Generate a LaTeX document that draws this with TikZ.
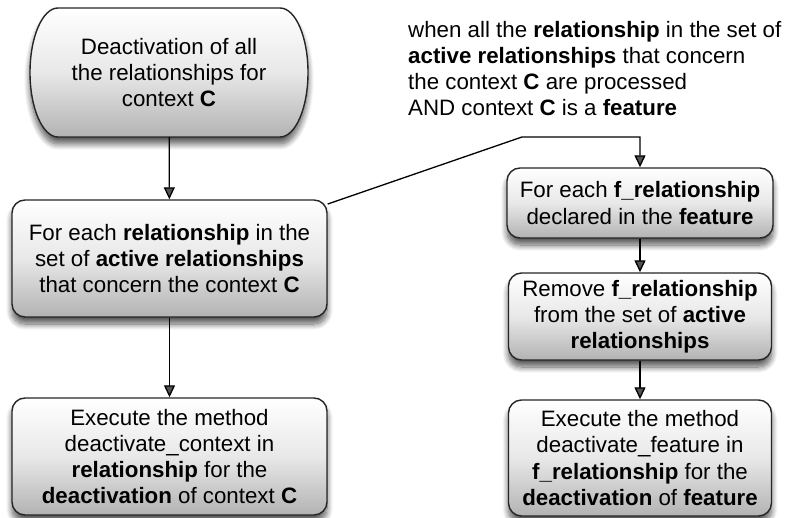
\documentclass[tikz,border=0pt]{standalone}
\usepackage{fontspec}
\setmainfont{Liberation Sans}
\usetikzlibrary{arrows.meta,shadows.blur}

\begin{document}
\begin{tikzpicture}[x=1pt,y=-1pt,
  font=\fontsize{22.3}{26.2}\selectfont,
  shade box/.style={draw=black!85, line width=1.4pt,
    top color=white, bottom color=black!30, middle color=black!9,
    blur shadow={shadow xshift=0pt, shadow yshift=-7pt,
      shadow blur steps=10, shadow opacity=65, shadow blur radius=6pt},
    align=center, inner sep=0pt},
  stepbox/.style={shade box, rounded corners=13pt},
  flow/.style={line width=1.3pt, -{Triangle[width=11pt,length=12pt]}}
]
\useasboundingbox (0,0) rectangle (787,518);

% start terminal: flat top and bottom with elliptical ends
\path[shade box] (58,8) arc[start angle=90, end angle=270, x radius=28pt, y radius=64.5pt]
  -- (280,137) arc[start angle=270, end angle=450, x radius=28pt, y radius=64.5pt] -- cycle;
\node[align=center, inner sep=0pt, minimum width=278pt, minimum height=129pt] (start) at (169,72.5)
  {Deactivation of all\\the relationships for\\context \textbf{C}};

% left column
\node[stepbox, minimum width=315pt, minimum height=117pt] (each) at (169.5,258.5)
  {For each \textbf{relationship} in the\\set of \textbf{active relationships}\\that concern the context \textbf{C}};
\node[stepbox, minimum width=315pt, minimum height=117pt] (exec) at (169.5,456.5)
  {Execute the method\\deactivate\_context in\\\textbf{relationship} for the\\\textbf{deactivation} of context \textbf{C}};

% right column
\node[stepbox, minimum width=266pt, minimum height=70pt] (feach) at (640,203)
  {For each \textbf{f\_relationship}\\declared in the \textbf{feature}};
\node[stepbox, minimum width=263pt, minimum height=87pt] (fremove) at (640,316.5)
  {Remove \textbf{f\_relationship}\\from the set of \textbf{active}\\\textbf{relationships}};
\node[stepbox, minimum width=263pt, minimum height=116pt] (fexec) at (640,458)
  {Execute the method\\deactivate\_feature in\\\textbf{f\_relationship} for the\\\textbf{deactivation} of \textbf{feature}};

% condition label
\node[anchor=north west, align=left, inner sep=0pt] (cond) at (408,21)
  {when all the \textbf{relationship} in the set of\\\textbf{active relationships} that concern\\the context \textbf{C} are processed\\AND context \textbf{C} is a \textbf{feature}};

% connectors
\coordinate (bend) at (522,137);
\draw[flow] (start) -- (each);
\draw[flow] (each) -- (exec);
\draw[flow] (each.19) -- (bend) -| (feach.north);
\draw[flow] (feach) -- (fremove);
\draw[flow] (fremove) -- (fexec);
\end{tikzpicture}
\end{document}
